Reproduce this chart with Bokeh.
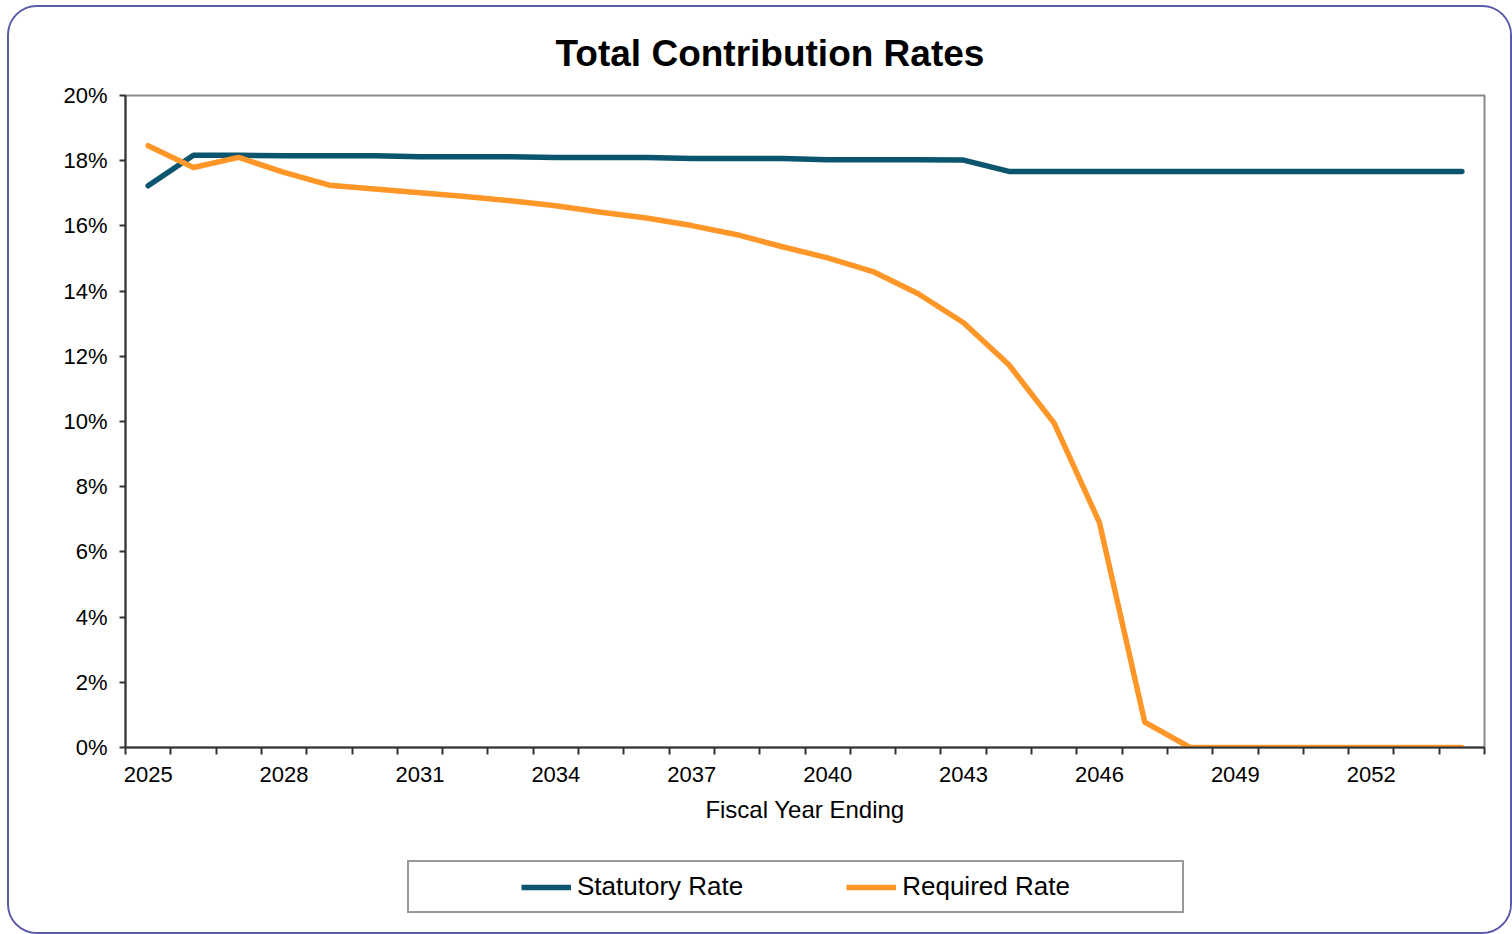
from bokeh.plotting import figure
from bokeh.layouts import column
from bokeh.models import (FixedTicker, PrintfTickFormatter, Legend, LegendItem, Range1d)
from bokeh.embed import file_html
from bokeh.resources import INLINE

# ---- data ----
years = list(range(2025, 2055))
statutory_rate = [17.23, 18.17, 18.17, 18.15, 18.15, 18.15, 18.12, 18.12, 18.12, 18.10,
                  18.10, 18.10, 18.07, 18.07, 18.07, 18.03, 18.03, 18.03, 18.02, 17.67,
                  17.67, 17.67, 17.67, 17.67, 17.67, 17.67, 17.67, 17.67, 17.67, 17.67]
required_rate = [18.46, 17.79, 18.10, 17.64, 17.25, 17.13, 17.02, 16.90, 16.77, 16.62,
                 16.42, 16.24, 16.01, 15.73, 15.36, 15.02, 14.60, 13.92, 13.03, 11.74,
                 9.95, 6.90, 0.78, 0.0, 0.0, 0.0, 0.0, 0.0, 0.0, 0.0]
x_label_years = [2025, 2028, 2031, 2034, 2037, 2040, 2043, 2046, 2049, 2052]
y_ticks = [0, 2, 4, 6, 8, 10, 12, 14, 16, 18, 20]
series_names = ["Statutory Rate", "Required Rate"]
title_text = "Total Contribution Rates"
x_title = "Fiscal Year Ending"

TEAL = "#0B566E"
ORANGE = "#FF9628"
FONT = "Liberation Sans"

# the whole chart sits inside a 2px rounded border placed at (7, 5) on the page
W = 1501
H_MAIN, H_LEG = 843, 82
FL, FR, FT, FB = 116, 1475, 88, 740

p = figure(width=W, height=H_MAIN, output_backend="svg", toolbar_location=None,
           x_range=Range1d(years[0] - 0.5, years[-1] + 0.5),
           y_range=Range1d(0, 20),
           min_border_left=FL, min_border_right=W - FR,
           min_border_top=FT, min_border_bottom=H_MAIN - FB)
p.background_fill_color = "white"
p.border_fill_color = "white"
p.outline_line_color = "#8a8a8a"
p.outline_line_width = 2
p.grid.visible = False

# title
p.title.text = title_text
p.title.align = "left"
p.title.offset = 430
p.title.text_font = FONT
p.title.text_font_size = "37px"
p.title.text_font_style = "bold"
p.title.text_color = "black"
p.title.standoff = 44

# x axis
xa = p.xaxis[0]
xa.ticker = FixedTicker(ticks=x_label_years,
                        minor_ticks=[y - 0.5 for y in years] + [years[-1] + 0.5])
xa.major_tick_out = 0
xa.major_tick_in = 0
xa.minor_tick_out = 7
xa.minor_tick_in = 0
xa.minor_tick_line_color = "#333333"
xa.minor_tick_line_width = 2
xa.axis_line_color = "#333333"
xa.axis_line_width = 2
xa.major_label_text_font = FONT
xa.major_label_text_font_size = "22px"
xa.major_label_text_color = "black"
xa.major_label_standoff = 12
xa.axis_label = x_title
xa.axis_label_text_font = FONT
xa.axis_label_text_font_size = "24px"
xa.axis_label_text_font_style = "normal"
xa.axis_label_text_color = "black"
xa.axis_label_standoff = 11

# y axis
ya = p.yaxis[0]
ya.ticker = FixedTicker(ticks=y_ticks)
ya.formatter = PrintfTickFormatter(format="%d%%")
ya.major_tick_out = 6
ya.major_tick_in = 0
ya.minor_tick_out = 0
ya.minor_tick_in = 0
ya.major_tick_line_color = "#333333"
ya.major_tick_line_width = 2
ya.axis_line_color = "#333333"
ya.axis_line_width = 2
ya.major_label_text_font = FONT
ya.major_label_text_font_size = "22px"
ya.major_label_text_color = "black"
ya.major_label_standoff = 12

# lines
p.line(years, statutory_rate, line_color=TEAL, line_width=5.5,
       line_join="round", line_cap="round")
p.line(years, required_rate, line_color=ORANGE, line_width=5.5,
       line_join="round", line_cap="round")

# ---- legend strip (its own small figure, frame = whole strip) ----
lg = figure(width=W, height=H_LEG, output_backend="svg", toolbar_location=None,
            x_range=Range1d(0, 1), y_range=Range1d(0, 1),
            x_axis_type=None, y_axis_type=None, min_border=0)
lg.outline_line_color = None
lg.grid.visible = False
lg.background_fill_color = "white"
lg.border_fill_color = "white"
# these series lie outside the strip's ranges; they only supply legend glyphs
l1 = lg.line(years, statutory_rate, line_color=TEAL, line_width=5.5)
l2 = lg.line(years, required_rate, line_color=ORANGE, line_width=5.5)
gap = lg.line(years, required_rate, line_alpha=0)

legend = Legend(items=[LegendItem(label="", renderers=[gap]),
                       LegendItem(label=series_names[0], renderers=[l1]),
                       LegendItem(label="", renderers=[gap]),
                       LegendItem(label=series_names[1], renderers=[l2]),
                       LegendItem(label="", renderers=[gap])],
                orientation="horizontal", location=(282, 19),
                glyph_width=50, glyph_height=20, label_height=30, label_standoff=6,
                label_width=47, spacing=0, padding=9, margin=0,
                border_line_color="#333333", border_line_width=2,
                background_fill_alpha=0,
                label_text_font=FONT, label_text_font_size="26px",
                label_text_color="black")
lg.add_layout(legend, "center")

layout = column(p, lg, spacing=0)
layout.styles = {"margin-left": "7px", "margin-top": "5px",
                 "border": "2px solid #5a5aaa", "border-radius": "30px",
                 "overflow": "hidden", "background-color": "white"}

open("out.html", "w").write(file_html(layout, INLINE))
